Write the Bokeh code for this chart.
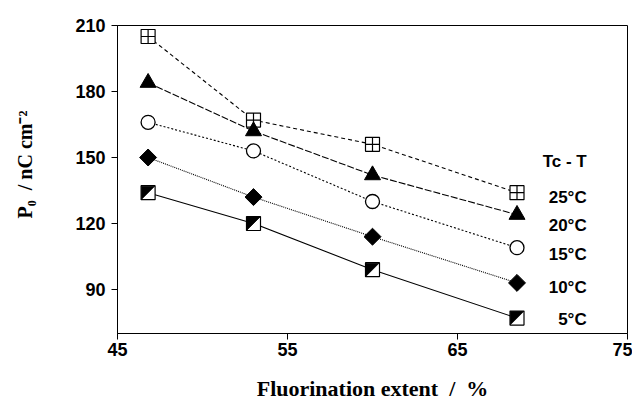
import numpy as np
from bokeh.plotting import figure
from bokeh.models import Range1d, FixedTicker
from bokeh.core.properties import value
from bokeh.embed import file_html
from bokeh.resources import INLINE

# ---- data ----
fluorination = [46.8, 53.0, 60.0, 68.5]
p0_25 = [205, 167, 156, 134]
p0_20 = [184, 162, 142, 124]
p0_15 = [166, 153, 130, 109]
p0_10 = [150, 132, 114, 93]
p0_5 = [134, 120, 99, 77]
series_labels = ["25°C", "20°C", "15°C", "10°C", "5°C"]
legend_title = "Tc - T"
x_ticks = [45, 55, 65, 75]
y_ticks = [90, 120, 150, 180, 210]

# ---- layout ----
W, H = 632, 403
ML, MT = 117, 25
FW, FH = 510, 308
MR, MB = W - ML - FW, H - MT - FH
X0, X1, Y0, Y1 = 45, 75, 70, 210
sx = FW / (X1 - X0)
sy = FH / (Y1 - Y0)

p = figure(width=W, height=H, output_backend="svg", toolbar_location=None,
           x_range=Range1d(X0, X1), y_range=Range1d(Y0, Y1),
           min_border_left=ML, min_border_right=MR, min_border_top=MT,
           min_border_bottom=MB)
p.frame_width = FW
p.frame_height = FH
p.xgrid.visible = False
p.ygrid.visible = False
p.outline_line_color = "black"
p.outline_line_width = 1
p.background_fill_color = "white"
p.border_fill_color = "white"

for ax in (p.xaxis[0], p.yaxis[0]):
    ax.axis_line_color = "black"
    ax.major_tick_line_color = "black"
    ax.minor_tick_line_color = None
    ax.major_tick_in = 0
    ax.major_tick_out = 6
    ax.major_label_text_font = "Liberation Sans"
    ax.major_label_text_font_style = "bold"
    ax.major_label_text_font_size = "18px"
    ax.major_label_text_color = "black"
    ax.axis_label_text_font = "Liberation Serif"
    ax.axis_label_text_font_style = "bold"
    ax.axis_label_text_color = "black"

p.xaxis.ticker = FixedTicker(ticks=x_ticks)
p.yaxis.ticker = FixedTicker(ticks=y_ticks)
p.xaxis.major_label_standoff = 3
p.yaxis.major_label_standoff = 6
p.xaxis.axis_label = "Fluorination extent\u00a0 /\u00a0 %"
p.xaxis.axis_label_text_font_size = "22px"
p.xaxis.axis_label_standoff = 17
# leading non-breaking spaces lift the centred label slightly, as in the original
p.yaxis.axis_label = "\u00a0" * 6 + "P\u2080\u00a0 / nC cm\u207b\u00b2"
p.yaxis.axis_label_text_font_size = "20px"
p.yaxis.axis_label_standoff = 36

# ---- lines ----
dashes = ["4 3", "7 2", "2 2", "1 1", "solid"]
all_series = [p0_25, p0_20, p0_15, p0_10, p0_5]
for ys, d in zip(all_series, dashes):
    p.line(fluorination, ys, line_color="black", line_width=1.1, line_dash=d)

# ---- markers ----
p.scatter(fluorination, p0_25, marker="square_cross", size=14,
          fill_color="white", line_color="black", line_width=1.2)
p.scatter(fluorination, p0_20, marker="triangle", size=16,
          fill_color="black", line_color="black")
p.scatter(fluorination, p0_15, marker="circle", size=14,
          fill_color="white", line_color="black", line_width=1.3)
p.scatter(fluorination, p0_10, marker="square", size=12, angle=np.pi / 4,
          fill_color="black", line_color="black")
p.scatter(fluorination, p0_5, marker="square", size=14,
          fill_color="white", line_color="black", line_width=1.2)
# half-filled squares (upper-left triangle black)
hx = 6.5 / sx
hy = 6.5 / sy
xs_tri = [[x - hx, x + hx, x - hx] for x in fluorination]
ys_tri = [[y + hy, y + hy, y - hy] for y in p0_5]
p.patches(xs_tri, ys_tri, fill_color="black", line_color="black", line_width=0.8)

# ---- legend text ----
leg_x = 72.6
leg_y = [148, 132, 119.3, 105.7, 90.7, 76.2]
p.text(x=[leg_x] * 6, y=leg_y, text=[legend_title] + series_labels,
       text_font=value("Liberation Sans"), text_font_style="bold",
       text_font_size="17px", text_align="right", text_baseline="middle",
       text_color="black")

open("out.html", "w").write(file_html(p, INLINE))
